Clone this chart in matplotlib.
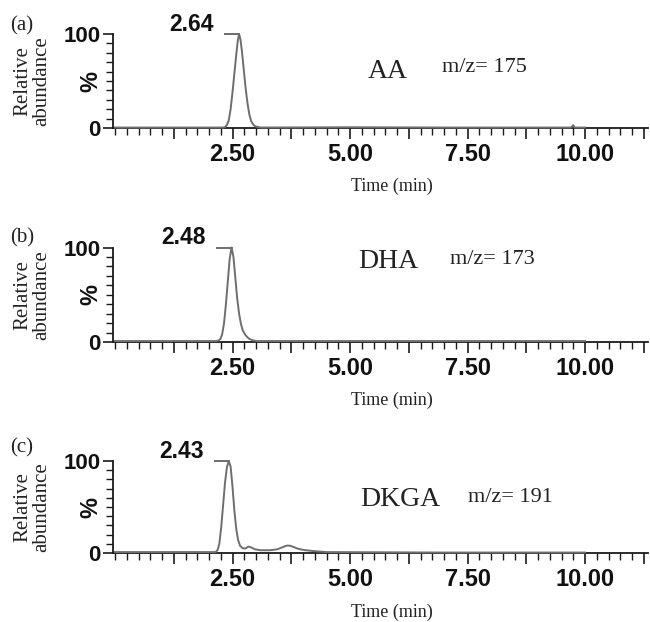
import matplotlib
matplotlib.use("Agg")
import matplotlib.pyplot as plt
from matplotlib.ticker import FixedLocator, FixedFormatter, MultipleLocator

W, H = 650, 622

# ---------------- data ----------------
panel_tags = ["(a)", "(b)", "(c)"]
compounds = ["AA", "DHA", "DKGA"]
mz_labels = ["m/z= 175", "m/z= 173", "m/z= 191"]
peak_times = [2.64, 2.48, 2.43]
peak_labels = ["2.64", "2.48", "2.43"]

aa_time = [0.00, 1.00, 2.00, 2.30, 2.34, 2.38, 2.42, 2.46, 2.50, 2.54, 2.58, 2.61,
           2.64, 2.67, 2.70, 2.74, 2.78, 2.82, 2.86, 2.90, 2.95, 3.00, 3.10, 5.00,
           7.00, 9.70, 9.75, 9.78, 10.00]
aa_abund = [0.5, 0.5, 0.5, 0.5, 1.0, 3.0, 8.0, 20.0, 38.0, 58.0, 78.0, 92.0,
            100.0, 94.0, 82.0, 62.0, 42.0, 26.0, 14.0, 7.0, 3.0, 1.5, 0.5, 0.8,
            0.5, 0.5, 3.0, 0.5, 0.5]

dha_time = [0.00, 1.00, 2.15, 2.20, 2.24, 2.28, 2.32, 2.36, 2.40, 2.44, 2.48, 2.52,
            2.56, 2.60, 2.64, 2.68, 2.72, 2.78, 2.85, 2.92, 3.00, 5.00, 7.50, 10.00]
dha_abund = [1.0, 1.0, 1.0, 1.5, 3.0, 8.0, 20.0, 40.0, 64.0, 88.0, 100.0, 90.0,
             68.0, 46.0, 30.0, 19.0, 12.0, 7.0, 3.5, 2.0, 1.0, 1.0, 1.0, 1.0]

dkga_time = [0.00, 1.00, 2.10, 2.14, 2.18, 2.22, 2.26, 2.30, 2.34, 2.38, 2.42, 2.46,
             2.50, 2.54, 2.58, 2.62, 2.66, 2.72, 2.78, 2.84, 2.90, 2.98, 3.10, 3.30,
             3.45, 3.55, 3.65, 3.72, 3.80, 3.90, 4.05, 4.25, 4.50, 7.00, 10.00]
dkga_abund = [1.0, 1.0, 1.0, 1.0, 3.0, 10.0, 28.0, 52.0, 76.0, 93.0, 100.0, 94.0,
              72.0, 46.0, 26.0, 14.0, 8.0, 5.0, 5.0, 7.0, 6.0, 4.0, 3.0, 3.0,
              4.0, 6.0, 8.0, 8.0, 6.5, 4.5, 3.0, 2.0, 1.0, 0.5, 0.5]

series_time = [aa_time, dha_time, dkga_time]
series_abund = [aa_abund, dha_abund, dkga_abund]

xtick_values = [2.5, 5.0, 7.5, 10.0]
xtick_labels = ["2.50", "5.00", "7.50", "10.00"]
ytick_values = [0, 100]
ytick_labels = ["0", "100"]

# ---------------- layout (pixel based) ----------------
def fx(x):
    return x / W

def fy(y):
    return 1 - y / H

# (y pixel of 0, y pixel of 100) for each panel
panel_y = [(128, 34), (342, 247.5), (553, 461)]
ax_left_px, ax_right_px = 113, 648
x0_px, px_per_min = 115, 47.0
xlim = ((ax_left_px - x0_px) / px_per_min, (ax_right_px - x0_px) / px_per_min)

# text positions (pixels)
tag_pos = [(22, 26), (22, 238), (22, 448)]
name_pos = [(388, 71), (388, 262), (400, 500)]
mz_pos = [(442, 67), (450, 260), (468, 498)]
time_pos = [(392, 186), (392, 400), (392, 612)]

serif = ["Liberation Serif", "DejaVu Serif"]
sans = ["Liberation Sans", "DejaVu Sans"]

fig = plt.figure(figsize=(W / 100, H / 100), dpi=100)
fig.patch.set_facecolor("white")

line_col = "#6e6e6e"
axis_col = "#1a1a1a"

for i in range(3):
    y0, y100 = panel_y[i]
    ax = fig.add_axes([fx(ax_left_px), fy(y0), (ax_right_px - ax_left_px) / W, (y0 - y100) / H])
    ax.set_xlim(*xlim)
    ax.set_ylim(0, 100)
    ax.patch.set_alpha(0)
    for s in ["top", "right"]:
        ax.spines[s].set_visible(False)
    for s in ["left", "bottom"]:
        ax.spines[s].set_color(axis_col)
        ax.spines[s].set_linewidth(1.3)

    ax.plot(series_time[i], series_abund[i], color=line_col, lw=1.4, clip_on=False, zorder=3,
            solid_joinstyle="round")

    # peak marker line and label
    pt = peak_times[i]
    ax.plot([pt - 0.31, pt], [100, 100], color=line_col, lw=1.4, clip_on=False, zorder=3)
    ax.annotate(peak_labels[i], xy=(pt - 0.31, 100), xytext=(-8, 2.5), textcoords="offset points",
                ha="right", va="baseline", fontsize=16.5, fontweight="bold", family=sans,
                color="#111111", annotation_clip=False)

    # x ticks: major every 1.25, labels only at 2.5 multiples
    major = [1.25 * k for k in range(1, 10)]
    labels = []
    for m in major:
        lab = ""
        for v, l in zip(xtick_values, xtick_labels):
            if abs(v - m) < 1e-6:
                lab = l
        labels.append(lab)
    ax.xaxis.set_major_locator(FixedLocator(major))
    ax.xaxis.set_major_formatter(FixedFormatter(labels))
    ax.xaxis.set_minor_locator(MultipleLocator(0.25))
    ax.tick_params(axis="x", which="major", length=8, width=1.2, color=axis_col, pad=2.5,
                   labelsize=17)
    ax.tick_params(axis="x", which="minor", length=5, width=1.0, color=axis_col)

    ax.yaxis.set_major_locator(FixedLocator(ytick_values))
    ax.yaxis.set_major_formatter(FixedFormatter(ytick_labels))
    ax.yaxis.set_minor_locator(MultipleLocator(10))
    ax.tick_params(axis="y", which="major", length=7, width=1.2, color=axis_col, pad=2,
                   labelsize=16)
    ax.tick_params(axis="y", which="minor", length=5, width=1.0, color=axis_col)
    for lab in ax.get_xticklabels() + ax.get_yticklabels():
        lab.set_fontweight("bold")
        lab.set_family(sans)
        lab.set_color("#111111")

    # texts
    fig.text(fx(tag_pos[i][0]), fy(tag_pos[i][1]), panel_tags[i], ha="center", va="center",
             fontsize=15, family=serif, color="#222222")
    fig.text(fx(32), fy((y0 + y100) / 2), "Relative\nabundance", rotation=90, ha="center",
             va="center", fontsize=15, family=serif, linespacing=1.0, color="#222222")
    fig.text(fx(91), fy((y0 + y100) / 2), "%", rotation=90, ha="center", va="center",
             fontsize=17, fontweight="bold", family=sans, color="#111111")
    fig.text(fx(name_pos[i][0]), fy(name_pos[i][1]), compounds[i], ha="center", va="center",
             fontsize=20, family=serif, color="#222222")
    fig.text(fx(mz_pos[i][0]), fy(mz_pos[i][1]), mz_labels[i], ha="left", va="center",
             fontsize=16, family=serif, color="#222222")
    fig.text(fx(time_pos[i][0]), fy(time_pos[i][1]), "Time (min)", ha="center", va="center",
             fontsize=13, family=serif, color="#222222")

fig.savefig("out.png", dpi=100, facecolor="white")
